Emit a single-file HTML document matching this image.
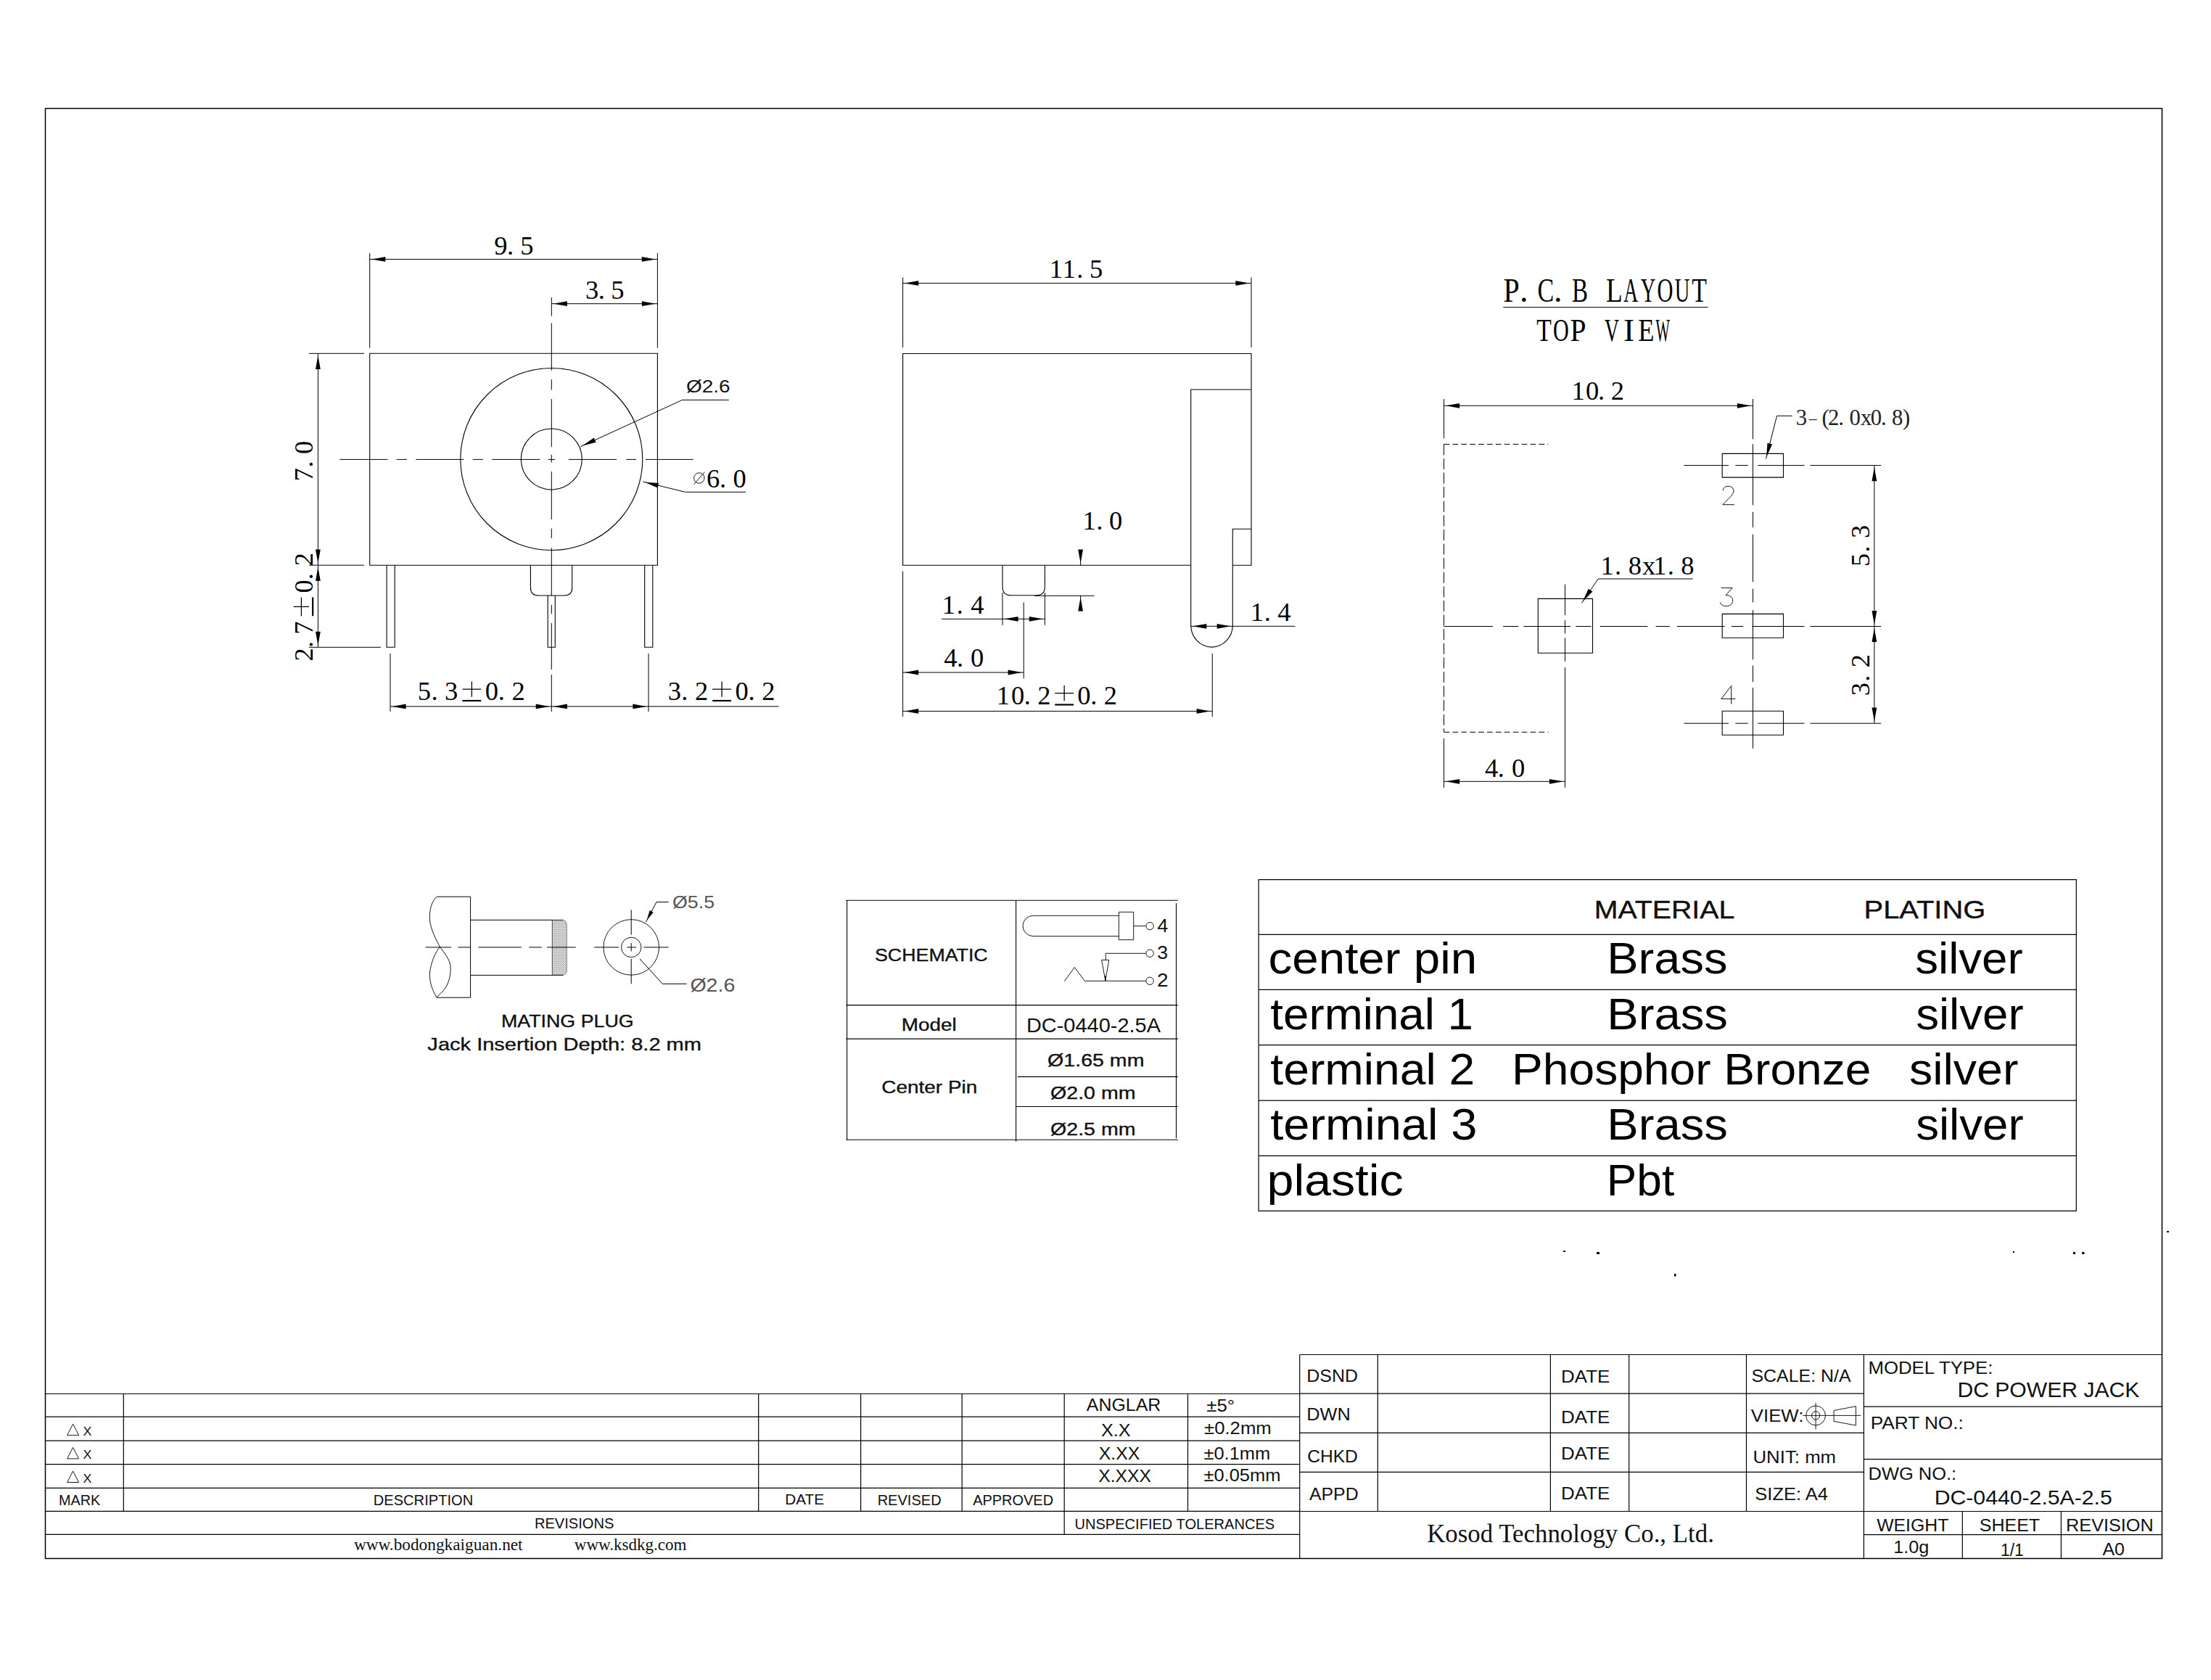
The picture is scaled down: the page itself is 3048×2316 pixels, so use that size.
<!DOCTYPE html>
<html><head><meta charset="utf-8"><title>DC-0440-2.5A-2.5</title>
<style>
html,body{margin:0;padding:0;background:#fff;}
body{width:3048px;height:2316px;overflow:hidden;font-family:"Liberation Sans",sans-serif;}
svg{display:block;}

svg text{white-space:pre;}
</style></head><body>
<svg width="3048" height="2316" viewBox="0 0 3048 2316" shape-rendering="geometricPrecision">
<rect x="0" y="0" width="3048" height="2316" fill="#fff"/>
<path d="M62.5 149.5L2980.5 149.5L2980.5 2148.4L62.5 2148.4Z" stroke="#000" stroke-width="1.5" fill="none"/>
<path d="M509.7 487.3L906.4 487.3L906.4 779.2L509.7 779.2Z" stroke="#000" stroke-width="1.1" fill="none"/>
<circle cx="760.3" cy="633" r="125.5" stroke="#000" stroke-width="1.1" fill="none"/>
<circle cx="760.3" cy="633" r="42" stroke="#000" stroke-width="1.1" fill="none"/>
<path d="M533.1 779.2L533.1 892.3L544.2 892.3L544.2 779.2" stroke="#000" stroke-width="1.1" fill="none"/>
<path d="M888.7 779.2L888.7 892.3L899.8 892.3L899.8 779.2" stroke="#000" stroke-width="1.1" fill="none"/>
<path d="M731.4 779.2L731.4 810Q731.4 821 742.4 821L777.7 821Q788.7 821 788.7 810L788.7 779.2" stroke="#000" stroke-width="1.1" fill="none" />
<path d="M755.2 821L755.2 892.3L765.3 892.3L765.3 821" stroke="#000" stroke-width="1.1" fill="none"/>
<path d="M760.3 410L760.3 981" stroke="#000" stroke-width="1.0" stroke-dasharray="25.7 9.7 65.3 12.5 14.3 12.5 66 10.8 10.7 12.5 66 12.6 13.4 13.4 66 12.5 12.5 12.5 64.1 7 60"/>
<path d="M468.3 633.4L955.6 633.4" stroke="#000" stroke-width="1.0" stroke-dasharray="66 12.5 14 12.5 66 12.5 14 12.5 66 11.4 9.5 18.8 66 13.4 13.7 12.9 66"/>
<path d="M509.7 349L509.7 479.5" stroke="#000" stroke-width="1.0"/>
<path d="M906.4 349L906.4 479.5" stroke="#000" stroke-width="1.0"/>
<path d="M509.7 357.4L906.4 357.4" stroke="#000" stroke-width="1.0"/>
<path d="M512.3 357.4L531.3 354L531.3 360.8Z" fill="#000"/>
<path d="M903.8 357.4L884.8 360.8L884.8 354Z" fill="#000"/>
<g><text y="351.3" font-family="Liberation Serif" font-size="36.54" fill="#000"><tspan x="681.21">9</tspan><tspan x="699.03">.</tspan><tspan x="717.19">5</tspan></text></g>
<path d="M760.3 418.7L906.4 418.7" stroke="#000" stroke-width="1.0"/>
<path d="M762.9 418.7L781.9 415.3L781.9 422.1Z" fill="#000"/>
<path d="M903.8 418.7L884.8 422.1L884.8 415.3Z" fill="#000"/>
<g><text y="412" font-family="Liberation Serif" font-size="36.54" fill="#000"><tspan x="806.96">3</tspan><tspan x="824.66">.</tspan><tspan x="842.19">5</tspan></text></g>
<path d="M426 487.3L502 487.3" stroke="#000" stroke-width="1.0"/>
<path d="M426 779.2L502 779.2" stroke="#000" stroke-width="1.0"/>
<path d="M438.4 487.3L438.4 779.2" stroke="#000" stroke-width="1.0"/>
<path d="M438.4 489.9L441.8 508.9L435 508.9Z" fill="#000"/>
<path d="M438.4 776.6L435 757.6L441.8 757.6Z" fill="#000"/>
<g transform="translate(430.5 635) rotate(-90)"><text y="0" font-family="Liberation Serif" font-size="36.54" fill="#000"><tspan x="-28.38">7</tspan><tspan x="-9.59">.</tspan><tspan x="9.1">0</tspan></text></g>
<path d="M438.4 779.2L438.4 892.3" stroke="#000" stroke-width="1.0"/>
<path d="M438.4 781.8L441.8 800.8L435 800.8Z" fill="#000"/>
<path d="M438.4 889.7L435 870.7L441.8 870.7Z" fill="#000"/>
<path d="M426 892.3L525 892.3" stroke="#000" stroke-width="1.0"/>
<g transform="translate(430.5 837) rotate(-90)"><text y="0" font-family="Liberation Serif" font-size="36.54" fill="#000"><tspan x="-74.55">2</tspan><tspan x="-56.06">.</tspan><tspan x="-37.86">7</tspan><tspan x="19.41">0</tspan><tspan x="37.72">.</tspan><tspan x="56.74">2</tspan></text><path d="M0.71 -25.69L0.71 -4.46M-12.18 -15.08L13.61 -15.08" stroke="#000" stroke-width="1.29" fill="none"/><path d="M-12.18 0.69L13.61 0.69" stroke="#000" stroke-width="2.18" fill="none"/></g>
<path d="M538 901L538 981" stroke="#000" stroke-width="1.0"/>
<path d="M894 901L894 981" stroke="#000" stroke-width="1.0"/>
<path d="M538 973.9L760.3 973.9" stroke="#000" stroke-width="1.0"/>
<path d="M540.6 973.9L559.6 970.5L559.6 977.3Z" fill="#000"/>
<path d="M757.7 973.9L738.7 977.3L738.7 970.5Z" fill="#000"/>
<path d="M760.3 973.9L894 973.9" stroke="#000" stroke-width="1.0"/>
<path d="M762.9 973.9L781.9 970.5L781.9 977.3Z" fill="#000"/>
<path d="M891.4 973.9L872.4 977.3L872.4 970.5Z" fill="#000"/>
<path d="M894 973.9L1073.7 973.9" stroke="#000" stroke-width="1.0"/>
<g><text y="965.3" font-family="Liberation Serif" font-size="36.54" fill="#000"><tspan x="575.8">5</tspan><tspan x="594.52">.</tspan><tspan x="613.05">3</tspan><tspan x="668.74">0</tspan><tspan x="686.73">.</tspan><tspan x="705.44">2</tspan></text><path d="M650.38 939.61L650.38 960.84M637.48 950.22L663.27 950.22" stroke="#000" stroke-width="1.29" fill="none"/><path d="M637.48 965.99L663.27 965.99" stroke="#000" stroke-width="2.18" fill="none"/></g>
<g><text y="965.3" font-family="Liberation Serif" font-size="36.54" fill="#000"><tspan x="920.76">3</tspan><tspan x="939.15">.</tspan><tspan x="957.89">2</tspan><tspan x="1013.48">0</tspan><tspan x="1031.5">.</tspan><tspan x="1050.24">2</tspan></text><path d="M995.09 939.61L995.09 960.84M982.19 950.22L1007.98 950.22" stroke="#000" stroke-width="1.29" fill="none"/><path d="M982.19 965.99L1007.98 965.99" stroke="#000" stroke-width="2.18" fill="none"/></g>
<path d="M940.5 551.4L1004.8 551.4" stroke="#000" stroke-width="1.0"/>
<path d="M940.5 551.4L800.5 615.7" stroke="#000" stroke-width="1.0"/>
<path d="M802.86 614.61L818.71 603.6L821.55 609.77Z" fill="#000"/>
<text transform="translate(946.02 540.5) scale(1.1405 1)" font-family="Liberation Sans" font-size="24.5" fill="#111">Ø2.6</text>
<path d="M944.6 678.3L1028 678.3" stroke="#000" stroke-width="1.0"/>
<path d="M944.6 678.3L886.4 664.1" stroke="#000" stroke-width="1.0"/>
<path d="M888.93 664.72L908.19 665.92L906.58 672.52Z" fill="#000"/>
<g><text y="672" font-family="Liberation Serif" font-size="36.54" fill="#000"><tspan x="974.05">6</tspan><tspan x="991.9">.</tspan><tspan x="1010.5">0</tspan></text></g>
<circle cx="963.8" cy="659" r="7.2" stroke="#000" stroke-width="0.9" fill="none"/>
<path d="M956.6 667.8L971.4 650.6" stroke="#000" stroke-width="0.9"/>
<path d="M1641.7 779.2L1244.6 779.2L1244.6 487.5L1725 487.5L1725 779.2L1699.3 779.2" stroke="#000" stroke-width="1.1" fill="none"/>
<path d="M1725 537L1641.7 537L1641.7 861.7A28.8 30.4 0 0 0 1699.3 861.7L1699.3 729.2L1725 729.2" stroke="#000" stroke-width="1.1" fill="none" />
<path d="M1382 779.2L1382 809Q1382 820.8 1394 820.8L1428.4 820.8Q1440.4 820.8 1440.4 809L1440.4 779.2" stroke="#000" stroke-width="1.1" fill="none" />
<path d="M1244.6 382.5L1244.6 479" stroke="#000" stroke-width="1.0"/>
<path d="M1725 382.5L1725 479" stroke="#000" stroke-width="1.0"/>
<path d="M1244.6 390.4L1725 390.4" stroke="#000" stroke-width="1.0"/>
<path d="M1247.2 390.4L1266.2 387L1266.2 393.8Z" fill="#000"/>
<path d="M1722.4 390.4L1703.4 393.8L1703.4 387Z" fill="#000"/>
<g><text y="382.5" font-family="Liberation Serif" font-size="36.54" fill="#000"><tspan x="1446.8">1</tspan><tspan x="1464.82">1</tspan><tspan x="1484.19">.</tspan><tspan x="1501.94">5</tspan></text></g>
<g><text y="730.4" font-family="Liberation Serif" font-size="36.54" fill="#000"><tspan x="1492.6">1</tspan><tspan x="1511.18">.</tspan><tspan x="1528.9">0</tspan></text></g>
<path d="M1489.6 760.8L1489.6 779.2" stroke="#000" stroke-width="1.0"/>
<path d="M1489.6 776.6L1486.2 757.6L1493 757.6Z" fill="#000"/>
<path d="M1489.6 820.8L1489.6 841.7" stroke="#000" stroke-width="1.0"/>
<path d="M1489.6 823.4L1493 842.4L1486.2 842.4Z" fill="#000"/>
<path d="M1426 821.3L1508.5 821.3" stroke="#000" stroke-width="1.0"/>
<path d="M1382 817L1382 861.8" stroke="#000" stroke-width="1.0"/>
<path d="M1440.4 817L1440.4 861.8" stroke="#000" stroke-width="1.0"/>
<path d="M1298 853.3L1440.4 853.3" stroke="#000" stroke-width="1.0"/>
<path d="M1384.6 853.3L1403.6 849.9L1403.6 856.7Z" fill="#000"/>
<path d="M1437.8 853.3L1418.8 856.7L1418.8 849.9Z" fill="#000"/>
<g><text y="845.8" font-family="Liberation Serif" font-size="36.54" fill="#000"><tspan x="1298.8">1</tspan><tspan x="1318.68">.</tspan><tspan x="1338.28">4</tspan></text></g>
<path d="M1411.25 830.4L1411.25 935.4" stroke="#000" stroke-width="1.0"/>
<path d="M1244.6 927L1411.25 927" stroke="#000" stroke-width="1.0"/>
<path d="M1247.2 927L1266.2 923.6L1266.2 930.4Z" fill="#000"/>
<path d="M1408.65 927L1389.65 930.4L1389.65 923.6Z" fill="#000"/>
<g><text y="919" font-family="Liberation Serif" font-size="36.54" fill="#000"><tspan x="1301.27">4</tspan><tspan x="1318.92">.</tspan><tspan x="1338.1">0</tspan></text></g>
<path d="M1244.6 787.5L1244.6 988" stroke="#000" stroke-width="1.0"/>
<path d="M1671.25 901L1671.25 988" stroke="#000" stroke-width="1.0"/>
<path d="M1244.6 980.4L1671.25 980.4" stroke="#000" stroke-width="1.0"/>
<path d="M1247.2 980.4L1266.2 977L1266.2 983.8Z" fill="#000"/>
<path d="M1668.65 980.4L1649.65 983.8L1649.65 977Z" fill="#000"/>
<g><text y="970.8" font-family="Liberation Serif" font-size="36.54" fill="#000"><tspan x="1373.8">1</tspan><tspan x="1393.92">0</tspan><tspan x="1411.75">.</tspan><tspan x="1430.31">2</tspan><tspan x="1485.35">0</tspan><tspan x="1503.18">.</tspan><tspan x="1521.74">2</tspan></text><path d="M1467.15 945.11L1467.15 966.34M1454.26 955.72L1480.05 955.72" stroke="#000" stroke-width="1.29" fill="none"/><path d="M1454.26 971.49L1480.05 971.49" stroke="#000" stroke-width="2.18" fill="none"/></g>
<path d="M1641.7 863.3L1785.4 863.3" stroke="#000" stroke-width="1.0"/>
<path d="M1644.3 863.3L1663.3 859.9L1663.3 866.7Z" fill="#000"/>
<path d="M1696.7 863.3L1677.7 866.7L1677.7 859.9Z" fill="#000"/>
<g><text y="856" font-family="Liberation Serif" font-size="36.54" fill="#000"><tspan x="1723.8">1</tspan><tspan x="1742.65">.</tspan><tspan x="1761.28">4</tspan></text></g>
<g><text y="416" font-family="Liberation Serif" font-size="46.3" fill="#000"><tspan x="2094.95">.</tspan><tspan x="2142.05">.</tspan></text><text transform="translate(2072.6 416) scale(0.862 1)" font-family="Liberation Serif" font-size="46.3" fill="#000">P</text><text transform="translate(2119.43 416) scale(0.737 1)" font-family="Liberation Serif" font-size="46.3" fill="#000">C</text><text transform="translate(2166.99 416) scale(0.716 1)" font-family="Liberation Serif" font-size="46.3" fill="#000">B</text><text transform="translate(2213.97 416) scale(0.808 1)" font-family="Liberation Serif" font-size="46.3" fill="#000">L</text><text transform="translate(2238.27 416) scale(0.599 1)" font-family="Liberation Serif" font-size="46.3" fill="#000">A</text><text transform="translate(2261.82 416) scale(0.614 1)" font-family="Liberation Serif" font-size="46.3" fill="#000">Y</text><text transform="translate(2284.44 416) scale(0.657 1)" font-family="Liberation Serif" font-size="46.3" fill="#000">O</text><text transform="translate(2308.63 416) scale(0.619 1)" font-family="Liberation Serif" font-size="46.3" fill="#000">U</text><text transform="translate(2332.16 416) scale(0.731 1)" font-family="Liberation Serif" font-size="46.3" fill="#000">T</text></g>
<path d="M2072.3 423.6L2354.6 423.6" stroke="#000" stroke-width="1.0"/>
<g><text y="469.7" font-family="Liberation Serif" font-size="45.27" fill="#000"><tspan x="2237.97">I</tspan></text><text transform="translate(2118.21 469.7) scale(0.743 1)" font-family="Liberation Serif" font-size="45.27" fill="#000">T</text><text transform="translate(2140.99 469.7) scale(0.668 1)" font-family="Liberation Serif" font-size="45.27" fill="#000">O</text><text transform="translate(2164.5 469.7) scale(0.876 1)" font-family="Liberation Serif" font-size="45.27" fill="#000">P</text><text transform="translate(2212.11 469.7) scale(0.613 1)" font-family="Liberation Serif" font-size="45.27" fill="#000">V</text><text transform="translate(2258.18 469.7) scale(0.806 1)" font-family="Liberation Serif" font-size="45.27" fill="#000">E</text><text transform="translate(2282.58 469.7) scale(0.455 1)" font-family="Liberation Serif" font-size="45.27" fill="#000">W</text></g>
<path d="M1990.5 550.1L1990.5 604.3" stroke="#000" stroke-width="1.0"/>
<path d="M1990.5 559.3L2416.5 559.3" stroke="#000" stroke-width="1.0"/>
<path d="M1993.1 559.3L2012.1 555.9L2012.1 562.7Z" fill="#000"/>
<path d="M2413.9 559.3L2394.9 562.7L2394.9 555.9Z" fill="#000"/>
<g><text y="551.2" font-family="Liberation Serif" font-size="36.54" fill="#000"><tspan x="2166.6">1</tspan><tspan x="2185.96">0</tspan><tspan x="2203.01">.</tspan><tspan x="2220.84">2</tspan></text></g>
<path d="M1990.5 612.4L2134.3 612.4" stroke="#000" stroke-width="1.0" stroke-dasharray="7.8 4.1"/>
<path d="M1990.5 1009.3L2134.3 1009.3" stroke="#000" stroke-width="1.0" stroke-dasharray="7.8 4.1"/>
<path d="M1990.5 612.4L1990.5 1009.3" stroke="#000" stroke-width="1.0" stroke-dasharray="15 4.6"/>
<path d="M2374.2 625.4L2458.5 625.4L2458.5 658.1L2374.2 658.1Z" stroke="#000" stroke-width="1.1" fill="none"/>
<path d="M2374.2 846.4L2458.5 846.4L2458.5 879.3L2374.2 879.3Z" stroke="#000" stroke-width="1.1" fill="none"/>
<path d="M2374.2 980.3L2458.5 980.3L2458.5 1013.2L2374.2 1013.2Z" stroke="#000" stroke-width="1.1" fill="none"/>
<path d="M2416.5 550.1L2416.5 1031.8" stroke="#000" stroke-width="1.0" stroke-dasharray="55.2 7 84.1 9.4 21.4 9.4 65.6 9.4 18.7 10.7 68.3 8.1 22.6 8 90"/>
<path d="M2321.4 641.6L2383 641.6" stroke="#000" stroke-width="1.0"/>
<path d="M2392.4 641.6L2409.8 641.6" stroke="#000" stroke-width="1.0"/>
<path d="M2423.2 641.6L2487.5 641.6" stroke="#000" stroke-width="1.0"/>
<path d="M2495.5 641.6L2593.2 641.6" stroke="#000" stroke-width="1.0"/>
<path d="M1990.5 863.5L2057.9 863.5" stroke="#000" stroke-width="1.0"/>
<path d="M2072.1 863.5L2093.3 863.5" stroke="#000" stroke-width="1.0"/>
<path d="M2100.4 863.5L2165.2 863.5" stroke="#000" stroke-width="1.0"/>
<path d="M2172.3 863.5L2193.5 863.5" stroke="#000" stroke-width="1.0"/>
<path d="M2205.7 863.5L2271.4 863.5" stroke="#000" stroke-width="1.0"/>
<path d="M2282.6 863.5L2301.8 863.5" stroke="#000" stroke-width="1.0"/>
<path d="M2311.9 863.5L2377.7 863.5" stroke="#000" stroke-width="1.0"/>
<path d="M2387 863.5L2403.1 863.5" stroke="#000" stroke-width="1.0"/>
<path d="M2415.2 863.5L2487.5 863.5" stroke="#000" stroke-width="1.0"/>
<path d="M2495.5 863.5L2593.2 863.5" stroke="#000" stroke-width="1.0"/>
<path d="M2321.4 997.2L2383 997.2" stroke="#000" stroke-width="1.0"/>
<path d="M2392.4 997.2L2409.8 997.2" stroke="#000" stroke-width="1.0"/>
<path d="M2423.2 997.2L2487.5 997.2" stroke="#000" stroke-width="1.0"/>
<path d="M2495.5 997.2L2593.2 997.2" stroke="#000" stroke-width="1.0"/>
<path d="M2120.3 825.4L2195.5 825.4L2195.5 900.3L2120.3 900.3Z" stroke="#000" stroke-width="1.1" fill="none"/>
<path d="M2157.5 805.5L2157.5 848" stroke="#000" stroke-width="1.0"/>
<path d="M2157.5 855.1L2157.5 873.3" stroke="#000" stroke-width="1.0"/>
<path d="M2157.5 879.4L2157.5 911.8" stroke="#000" stroke-width="1.0"/>
<path d="M2157.5 919.9L2157.5 1085.8" stroke="#000" stroke-width="1.0"/>
<path d="M2203.2 798L2333.8 798" stroke="#000" stroke-width="1.0"/>
<path d="M2203.2 798L2180.4 831.4" stroke="#000" stroke-width="1.0"/>
<path d="M2181.87 829.25L2189.77 811.64L2195.39 815.48Z" fill="#000"/>
<g><text y="792" font-family="Liberation Serif" font-size="36.54" fill="#000"><tspan x="2206.5">1</tspan><tspan x="2226.03">.</tspan><tspan x="2244.65">8</tspan><tspan x="2263.91">x</tspan><tspan x="2279.15">1</tspan><tspan x="2298.68">.</tspan><tspan x="2317.3">8</tspan></text></g>
<path d="M2470.6 573.3L2449.5 573.3" stroke="#000" stroke-width="1.0"/>
<path d="M2449.5 573.3L2434.5 632.6" stroke="#000" stroke-width="1.0"/>
<path d="M2435.14 630.08L2436.5 610.83L2443.09 612.49Z" fill="#000"/>
<g><text y="586.3" font-family="Liberation Serif" font-size="30.77" fill="#222"><tspan x="2475.84">3</tspan><tspan x="2511.54">(</tspan><tspan x="2519.97">2</tspan><tspan x="2534.37">.</tspan><tspan x="2549.43">0</tspan><tspan x="2565.02">x</tspan><tspan x="2578.75">0</tspan><tspan x="2593">.</tspan><tspan x="2608.07">8</tspan><tspan x="2622.88">)</tspan></text><path d="M2493.72 578.6L2504.86 578.6" stroke="#222" stroke-width="1.17" fill="none"/></g>
<path transform="translate(2374.4 670.4) scale(0.965 0.973)" d="M1 6C1 2 4 0 8.5 0C13 0 16 2.5 16 6.5C16 10 13 13.5 9 17.5L0.5 26L17 26" stroke="#111" stroke-width="1.0" fill="none" vector-effect="non-scaling-stroke"/>
<path transform="translate(2371.2 810.4) scale(1.059 0.969)" d="M1.5 0L16 0L7.5 10.5C13 10.5 16.5 13.5 16.5 18C16.5 23 13 26 8 26C4 26 1 24 0 20.5" stroke="#111" stroke-width="1.0" fill="none" vector-effect="non-scaling-stroke"/>
<path transform="translate(2372.9 945.5) scale(1.106 0.969)" d="M12.5 0L0 18.5L17.5 18.5M12.5 0L12.5 26" stroke="#111" stroke-width="1.0" fill="none" vector-effect="non-scaling-stroke"/>
<path d="M2583.9 641.6L2583.9 863.5" stroke="#000" stroke-width="1.0"/>
<path d="M2583.9 644.2L2587.3 663.2L2580.5 663.2Z" fill="#000"/>
<path d="M2583.9 860.9L2580.5 841.9L2587.3 841.9Z" fill="#000"/>
<path d="M2583.9 863.5L2583.9 997.2" stroke="#000" stroke-width="1.0"/>
<path d="M2583.9 866.1L2587.3 885.1L2580.5 885.1Z" fill="#000"/>
<path d="M2583.9 994.6L2580.5 975.6L2587.3 975.6Z" fill="#000"/>
<g transform="translate(2577.2 752.1) rotate(-90)"><text y="0" font-family="Liberation Serif" font-size="36.54" fill="#000"><tspan x="-28.9">5</tspan><tspan x="-9.33">.</tspan><tspan x="9.99">3</tspan></text></g>
<g transform="translate(2577.2 930.7) rotate(-90)"><text y="0" font-family="Liberation Serif" font-size="36.54" fill="#000"><tspan x="-28.54">3</tspan><tspan x="-9.14">.</tspan><tspan x="10.54">2</tspan></text></g>
<path d="M1990.5 1017.9L1990.5 1085.8" stroke="#000" stroke-width="1.0"/>
<path d="M1990.5 1077.3L2157.5 1077.3" stroke="#000" stroke-width="1.0"/>
<path d="M1993.1 1077.3L2012.1 1073.9L2012.1 1080.7Z" fill="#000"/>
<path d="M2154.9 1077.3L2135.9 1080.7L2135.9 1073.9Z" fill="#000"/>
<g><text y="1070.7" font-family="Liberation Serif" font-size="36.54" fill="#000"><tspan x="2047.07">4</tspan><tspan x="2064.83">.</tspan><tspan x="2084.1">0</tspan></text></g>
<defs><pattern id="kn" width="2.6" height="2.6" patternUnits="userSpaceOnUse"><rect width="2.6" height="2.6" fill="#fff"/><circle cx="0.7" cy="0.7" r="0.55" fill="#222"/><circle cx="2.0" cy="2.0" r="0.55" fill="#222"/></pattern></defs>
<path d="M602.2 1236.2L648.6 1236.2L648.6 1375.2L602.2 1375.2" stroke="#000" stroke-width="1.0" fill="none"/>
<path d="M602.2 1236.2C594 1243 591.5 1258 592.5 1268C593.5 1281 601 1295 606.4 1305.3" stroke="#000" stroke-width="0.9" fill="none" />
<path d="M606.4 1305.3C612 1313 620 1322 621 1332C622 1347 617 1360 610 1367C607 1370 604 1372 602.2 1375.2" stroke="#000" stroke-width="0.9" fill="none" />
<path d="M606.4 1305.3C600 1313 594 1327 592.5 1341C591.5 1352 596 1366 602.2 1375.2" stroke="#000" stroke-width="0.9" fill="none" />
<path d="M648.6 1268.3L776.5 1268.3M776.5 1344.4L648.6 1344.4" stroke="#000" stroke-width="1.0" fill="none" />
<path d="M761.4 1268.3L761.4 1344.4" stroke="#000" stroke-width="0.9"/>
<path d="M761.4 1268.8L776.5 1268.8Q781.3 1269.5 781.3 1275L781.3 1338Q781.3 1343.2 776.5 1343.9L761.4 1343.9Z" fill="url(#kn)" stroke="#444" stroke-width="0.6"/>
<path d="M586.6 1305.9L622 1305.9" stroke="#000" stroke-width="1.0"/>
<path d="M631.4 1305.9L649 1305.9" stroke="#000" stroke-width="1.0"/>
<path d="M659.5 1305.9L718.8 1305.9" stroke="#000" stroke-width="1.0"/>
<path d="M729.2 1305.9L746.8 1305.9" stroke="#000" stroke-width="1.0"/>
<path d="M754.1 1305.9L793.7 1305.9" stroke="#000" stroke-width="1.0"/>
<circle cx="870.2" cy="1305.9" r="38.3" stroke="#000" stroke-width="0.9" fill="none"/>
<circle cx="870.2" cy="1305.9" r="13.7" stroke="#000" stroke-width="0.9" fill="none"/>
<path d="M819.2 1305.9L853 1305.9" stroke="#000" stroke-width="1.0"/>
<path d="M864.4 1305.9L876.9 1305.9" stroke="#000" stroke-width="1.0"/>
<path d="M887.3 1305.9L921.6 1305.9" stroke="#000" stroke-width="1.0"/>
<path d="M870.2 1254.3L870.2 1288.7" stroke="#000" stroke-width="1.0"/>
<path d="M870.2 1300.1L870.2 1311.5" stroke="#000" stroke-width="1.0"/>
<path d="M870.2 1321.9L870.2 1356.3" stroke="#000" stroke-width="1.0"/>
<path d="M921.6 1243.5L905 1243.5" stroke="#000" stroke-width="1.0"/>
<path d="M905 1243.5L890.4 1271" stroke="#000" stroke-width="1.0"/>
<path d="M891.62 1268.7L895.71 1255.03L900.66 1257.65Z" fill="#000"/>
<text transform="translate(926.96 1252.2) scale(1.1033 1)" font-family="Liberation Sans" font-size="24.3" fill="#555">Ø5.5</text>
<path d="M882.1 1322L913.3 1356.3" stroke="#000" stroke-width="1.0"/>
<path d="M913.3 1356.3L946.6 1356.3" stroke="#000" stroke-width="1.0"/>
<text transform="translate(951.4 1366.7) scale(1.0739 1)" font-family="Liberation Sans" font-size="26.6" fill="#555">Ø2.6</text>
<text transform="translate(690.99 1415.6) scale(1.1657 1)" font-family="Liberation Sans" font-size="23" fill="#111" stroke="#111" stroke-width="0.35">MATING PLUG</text>
<text transform="translate(589.36 1447.9) scale(1.2363 1)" font-family="Liberation Sans" font-size="23.5" fill="#111" stroke="#111" stroke-width="0.35">Jack Insertion Depth: 8.2 mm</text>
<path d="M1166.3 1241.3L1623.8 1241.3" stroke="#000" stroke-width="1.1"/>
<path d="M1166.3 1385.6L1623.8 1385.6" stroke="#000" stroke-width="1.1"/>
<path d="M1166.3 1432.1L1623.8 1432.1" stroke="#000" stroke-width="1.1"/>
<path d="M1166.3 1571.2L1623.8 1571.2" stroke="#000" stroke-width="1.1"/>
<path d="M1402.8 1484.4L1623.8 1484.4" stroke="#000" stroke-width="1.1"/>
<path d="M1399.9 1525.5L1623.8 1525.5" stroke="#000" stroke-width="1.1"/>
<path d="M1167.6 1241.3L1167.6 1571.4" stroke="#000" stroke-width="1.1"/>
<path d="M1400.6 1241.3L1400.6 1573.7" stroke="#000" stroke-width="1.1"/>
<path d="M1621.5 1244.9L1621.5 1569.2" stroke="#000" stroke-width="1.1"/>
<text transform="translate(1205.99 1324.5) scale(1.1072 1)" font-family="Liberation Sans" font-size="24.2" fill="#111" stroke="#111" stroke-width="0.35">SCHEMATIC</text>
<text transform="translate(1242.7 1420.6) scale(1.1538 1)" font-family="Liberation Sans" font-size="24.2" fill="#111" stroke="#111" stroke-width="0.35">Model</text>
<text transform="translate(1414.91 1423.3) scale(1.0345 1)" font-family="Liberation Sans" font-size="28" fill="#111">DC-0440-2.5A</text>
<text transform="translate(1215.3 1506.5) scale(1.1554 1)" font-family="Liberation Sans" font-size="24.2" fill="#111" stroke="#111" stroke-width="0.35">Center Pin</text>
<text transform="translate(1444.1 1469.7) scale(1.1905 1)" font-family="Liberation Sans" font-size="24" fill="#111" stroke="#111" stroke-width="0.35">Ø1.65 mm</text>
<text transform="translate(1448 1515.1) scale(1.1921 1)" font-family="Liberation Sans" font-size="24" fill="#111" stroke="#111" stroke-width="0.35">Ø2.0 mm</text>
<text transform="translate(1448 1564.7) scale(1.1921 1)" font-family="Liberation Sans" font-size="24" fill="#111" stroke="#111" stroke-width="0.35">Ø2.5 mm</text>
<path d="M1542.4 1262.3L1424.2 1262.3A14.15 14.15 0 0 0 1424.2 1290.6L1542.4 1290.6" stroke="#000" stroke-width="0.9" fill="none" />
<path d="M1542.4 1257.3L1562.7 1257.3L1562.7 1295.6L1542.4 1295.6Z" stroke="#000" stroke-width="0.9" fill="none"/>
<path d="M1562.7 1276.6L1579.7 1276.6" stroke="#000" stroke-width="0.9"/>
<circle cx="1585.1" cy="1276.6" r="5.2" stroke="#000" stroke-width="0.9" fill="none"/>
<circle cx="1585.1" cy="1314.3" r="5.2" stroke="#000" stroke-width="0.9" fill="none"/>
<path d="M1579.7 1314.3L1524.3 1314.3L1524.3 1323.4" stroke="#000" stroke-width="0.9" fill="none"/>
<path d="M1518.6 1323.4L1528.8 1323.4L1523.8 1351.6Z" stroke="#000" stroke-width="0.9" fill="none"/>
<circle cx="1585.1" cy="1352.3" r="5.2" stroke="#000" stroke-width="0.9" fill="none"/>
<path d="M1579.7 1352.3L1495.3 1352.3L1481.3 1333.5L1467.3 1352.8" stroke="#000" stroke-width="0.9" fill="none"/>
<path d="M1523.8 1345L1523.8 1352.3" stroke="#000" stroke-width="1.4"/>
<text transform="translate(1595.4 1284.9) scale(1.0483 1)" font-family="Liberation Sans" font-size="25.5" fill="#111">4</text>
<text transform="translate(1595.3 1322.2) scale(1.0485 1)" font-family="Liberation Sans" font-size="25.5" fill="#111">3</text>
<text transform="translate(1594.9 1360.2) scale(1.0946 1)" font-family="Liberation Sans" font-size="25.5" fill="#111">2</text>
<path d="M1735.1 1212.6L2862.3 1212.6L2862.3 1669.4L1735.1 1669.4Z" stroke="#000" stroke-width="1.2" fill="none"/>
<path d="M1735.1 1288.3L2862.3 1288.3" stroke="#000" stroke-width="1.2"/>
<path d="M1735.1 1364.3L2862.3 1364.3" stroke="#000" stroke-width="1.2"/>
<path d="M1735.1 1440.6L2862.3 1440.6" stroke="#000" stroke-width="1.2"/>
<path d="M1735.1 1517.1L2862.3 1517.1" stroke="#000" stroke-width="1.2"/>
<path d="M1735.1 1593.4L2862.3 1593.4" stroke="#000" stroke-width="1.2"/>
<text transform="translate(2197.66 1266.3) scale(1.0921 1)" font-family="Liberation Sans" font-size="36" fill="#111" stroke="#111" stroke-width="0.4">MATERIAL</text>
<text transform="translate(2569.61 1266.3) scale(1.1077 1)" font-family="Liberation Sans" font-size="36" fill="#111" stroke="#111" stroke-width="0.4">PLATING</text>
<text transform="translate(1748.62 1342) scale(1.0735 1)" font-family="Liberation Sans" font-size="61" fill="#000">center pin</text>
<text transform="translate(2215.24 1342) scale(1.0660 1)" font-family="Liberation Sans" font-size="61" fill="#000">Brass</text>
<text transform="translate(2640.25 1342) scale(1.0430 1)" font-family="Liberation Sans" font-size="61" fill="#000">silver</text>
<text transform="translate(1751.34 1418.6) scale(1.0444 1)" font-family="Liberation Sans" font-size="61" fill="#000">terminal 1</text>
<text transform="translate(2215.22 1418.6) scale(1.0694 1)" font-family="Liberation Sans" font-size="61" fill="#000">Brass</text>
<text transform="translate(2641.15 1418.6) scale(1.0430 1)" font-family="Liberation Sans" font-size="61" fill="#000">silver</text>
<text transform="translate(1751.34 1495.1) scale(1.0526 1)" font-family="Liberation Sans" font-size="61" fill="#000">terminal 2</text>
<text transform="translate(2084.11 1495.1) scale(1.0509 1)" font-family="Liberation Sans" font-size="61" fill="#000">Phosphor Bronze</text>
<text transform="translate(2631.93 1495.1) scale(1.0573 1)" font-family="Liberation Sans" font-size="61" fill="#000">silver</text>
<text transform="translate(1751.33 1571.4) scale(1.0648 1)" font-family="Liberation Sans" font-size="61" fill="#000">terminal 3</text>
<text transform="translate(2215.22 1571.4) scale(1.0694 1)" font-family="Liberation Sans" font-size="61" fill="#000">Brass</text>
<text transform="translate(2641.15 1571.4) scale(1.0430 1)" font-family="Liberation Sans" font-size="61" fill="#000">silver</text>
<text transform="translate(1746.59 1647.7) scale(1.0879 1)" font-family="Liberation Sans" font-size="61" fill="#000">plastic</text>
<text transform="translate(2214.87 1647.7) scale(1.0196 1)" font-family="Liberation Sans" font-size="61" fill="#000">Pbt</text>
<path d="M62.5 1921.5L1791.7 1921.5" stroke="#000" stroke-width="1.2"/>
<path d="M62.5 1953.2L1791.7 1953.2" stroke="#000" stroke-width="1.2"/>
<path d="M62.5 1986.1L1791.7 1986.1" stroke="#000" stroke-width="1.2"/>
<path d="M62.5 2018.6L1791.7 2018.6" stroke="#000" stroke-width="1.2"/>
<path d="M62.5 2051.3L1791.7 2051.3" stroke="#000" stroke-width="1.2"/>
<path d="M62.5 2083.3L1791.7 2083.3" stroke="#000" stroke-width="1.2"/>
<path d="M62.5 2115.4L1791.7 2115.4" stroke="#000" stroke-width="1.2"/>
<path d="M170.3 1921.5L170.3 2083.3" stroke="#000" stroke-width="1.2"/>
<path d="M1045.7 1921.5L1045.7 2083.3" stroke="#000" stroke-width="1.2"/>
<path d="M1186.6 1921.5L1186.6 2083.3" stroke="#000" stroke-width="1.2"/>
<path d="M1326.2 1921.5L1326.2 2083.3" stroke="#000" stroke-width="1.2"/>
<path d="M1637.5 1921.5L1637.5 2083.3" stroke="#000" stroke-width="1.2"/>
<path d="M1467.2 1921.5L1467.2 2115.4" stroke="#000" stroke-width="1.2"/>
<path d="M1791.7 1867.5L2980.5 1867.5" stroke="#000" stroke-width="1.2"/>
<path d="M1791.7 1867.5L1791.7 2148.4" stroke="#000" stroke-width="1.2"/>
<path d="M1791.7 1921.2L2569.4 1921.2" stroke="#000" stroke-width="1.2"/>
<path d="M1791.7 1975.4L2569.4 1975.4" stroke="#000" stroke-width="1.2"/>
<path d="M1791.7 2029.3L2569.4 2029.3" stroke="#000" stroke-width="1.2"/>
<path d="M1791.7 2083.5L2980.5 2083.5" stroke="#000" stroke-width="1.2"/>
<path d="M1899.3 1867.5L1899.3 2083.5" stroke="#000" stroke-width="1.2"/>
<path d="M2137.4 1867.5L2137.4 2083.5" stroke="#000" stroke-width="1.2"/>
<path d="M2245.7 1867.5L2245.7 2083.5" stroke="#000" stroke-width="1.2"/>
<path d="M2407.5 1867.5L2407.5 2083.5" stroke="#000" stroke-width="1.2"/>
<path d="M2569.4 1867.5L2569.4 2148.4" stroke="#000" stroke-width="1.2"/>
<path d="M2569.4 1939.1L2980.5 1939.1" stroke="#000" stroke-width="1.2"/>
<path d="M2569.4 2011.7L2980.5 2011.7" stroke="#000" stroke-width="1.2"/>
<path d="M2569.4 2115.6L2980.5 2115.6" stroke="#000" stroke-width="1.2"/>
<path d="M2705.3 2083.5L2705.3 2148.4" stroke="#000" stroke-width="1.2"/>
<path d="M2841.4 2083.5L2841.4 2148.4" stroke="#000" stroke-width="1.2"/>
<text transform="translate(80.96 2074.8) scale(1.0270 1)" font-family="Liberation Sans" font-size="19.3" fill="#111">MARK</text>
<text transform="translate(514.74 2074.8) scale(1.0425 1)" font-family="Liberation Sans" font-size="19.3" fill="#111">DESCRIPTION</text>
<text transform="translate(1082.28 2074.3) scale(1.0772 1)" font-family="Liberation Sans" font-size="19.3" fill="#111">DATE</text>
<text transform="translate(1209.64 2074.8) scale(1.0399 1)" font-family="Liberation Sans" font-size="19.3" fill="#111">REVISED</text>
<text transform="translate(1341.15 2074.8) scale(1.0358 1)" font-family="Liberation Sans" font-size="19.3" fill="#111">APPROVED</text>
<text transform="translate(736.94 2106.7) scale(1.0421 1)" font-family="Liberation Sans" font-size="19.3" fill="#111">REVISIONS</text>
<text transform="translate(1481.44 2108) scale(1.0296 1)" font-family="Liberation Sans" font-size="19.5" fill="#111">UNSPECIFIED TOLERANCES</text>
<path d="M100.6 1963.1L92.6 1978.6L108.6 1978.6Z" stroke="#000" stroke-width="0.9" fill="none"/>
<text transform="translate(114.5 1979.1) scale(1.0307 1)" font-family="Liberation Sans" font-size="17.3" fill="#111">X</text>
<path d="M100.6 1995.4L92.6 2010.9L108.6 2010.9Z" stroke="#000" stroke-width="0.9" fill="none"/>
<text transform="translate(114.5 2011.4) scale(1.0307 1)" font-family="Liberation Sans" font-size="17.3" fill="#111">X</text>
<path d="M100.6 2028L92.6 2043.5L108.6 2043.5Z" stroke="#000" stroke-width="0.9" fill="none"/>
<text transform="translate(114.5 2044) scale(1.0307 1)" font-family="Liberation Sans" font-size="17.3" fill="#111">X</text>
<text transform="translate(487.9 2137.4) scale(1.0135 1)" font-family="Liberation Serif" font-size="23" fill="#111">www.bodongkaiguan.net</text>
<text transform="translate(791.8 2137.4) scale(1.0030 1)" font-family="Liberation Serif" font-size="23" fill="#111">www.ksdkg.com</text>
<text transform="translate(1497.84 1945) scale(1.0841 1)" font-family="Liberation Sans" font-size="23" fill="#111">ANGLAR</text>
<text transform="translate(1663.26 1945.9) scale(1.1204 1)" font-family="Liberation Sans" font-size="23" fill="#111">±5°</text>
<text transform="translate(1517.93 1979.8) scale(1.0956 1)" font-family="Liberation Sans" font-size="23" fill="#111">X.X</text>
<text transform="translate(1660.06 1977.3) scale(1.1181 1)" font-family="Liberation Sans" font-size="23" fill="#111">±0.2mm</text>
<text transform="translate(1514.74 2011.5) scale(1.0777 1)" font-family="Liberation Sans" font-size="23" fill="#111">X.XX</text>
<text transform="translate(1659.47 2011.5) scale(1.1069 1)" font-family="Liberation Sans" font-size="23" fill="#111">±0.1mm</text>
<text transform="translate(1514.14 2043.1) scale(1.0755 1)" font-family="Liberation Sans" font-size="23" fill="#111">X.XXX</text>
<text transform="translate(1659.47 2041.5) scale(1.1077 1)" font-family="Liberation Sans" font-size="23" fill="#111">±0.05mm</text>
<text transform="translate(1801.34 1904.5) scale(1.0382 1)" font-family="Liberation Sans" font-size="24" fill="#111">DSND</text>
<text transform="translate(1801.31 1957.6) scale(1.0555 1)" font-family="Liberation Sans" font-size="24" fill="#111">DWN</text>
<text transform="translate(1802.17 2016.2) scale(1.0259 1)" font-family="Liberation Sans" font-size="24" fill="#111">CHKD</text>
<text transform="translate(1804.94 2067.5) scale(1.0368 1)" font-family="Liberation Sans" font-size="24" fill="#111">APPD</text>
<text transform="translate(2152.06 1906) scale(1.0807 1)" font-family="Liberation Sans" font-size="24" fill="#111">DATE</text>
<text transform="translate(2152.06 1961.8) scale(1.0807 1)" font-family="Liberation Sans" font-size="24" fill="#111">DATE</text>
<text transform="translate(2152.06 2012.1) scale(1.0807 1)" font-family="Liberation Sans" font-size="24" fill="#111">DATE</text>
<text transform="translate(2152.06 2066.9) scale(1.0807 1)" font-family="Liberation Sans" font-size="24" fill="#111">DATE</text>
<text transform="translate(2414.48 1904.7) scale(1.0380 1)" font-family="Liberation Sans" font-size="24" fill="#111">SCALE: N/A</text>
<text transform="translate(2413.87 1959.9) scale(1.0723 1)" font-family="Liberation Sans" font-size="24" fill="#111">VIEW:</text>
<text transform="translate(2416.5 2017.2) scale(1.0746 1)" font-family="Liberation Sans" font-size="24" fill="#111">UNIT: mm</text>
<text transform="translate(2419.35 2067.8) scale(1.0641 1)" font-family="Liberation Sans" font-size="24" fill="#111">SIZE: A4</text>
<circle cx="2503.1" cy="1951.4" r="13.4" stroke="#000" stroke-width="0.9" fill="none"/>
<circle cx="2503.1" cy="1951.4" r="5.6" stroke="#000" stroke-width="0.9" fill="none"/>
<path d="M2485.4 1951.4L2565.3 1951.4" stroke="#000" stroke-width="0.9"/>
<path d="M2503.1 1934L2503.1 1970.5" stroke="#000" stroke-width="0.9"/>
<path d="M2528.1 1944.5L2558.4 1938.7L2558.4 1965L2528.1 1959.4Z" stroke="#000" stroke-width="0.9" fill="none"/>
<text transform="translate(2575.47 1893.6) scale(1.0745 1)" font-family="Liberation Sans" font-size="24" fill="#111">MODEL TYPE:</text>
<text transform="translate(2698.41 1925.9) scale(1.0215 1)" font-family="Liberation Sans" font-size="29.5" fill="#111">DC POWER JACK</text>
<text transform="translate(2578.74 1970) scale(1.0917 1)" font-family="Liberation Sans" font-size="24" fill="#111">PART NO.:</text>
<text transform="translate(2575.5 2039.8) scale(1.0613 1)" font-family="Liberation Sans" font-size="24" fill="#111">DWG NO.:</text>
<text transform="translate(2666.71 2073.5) scale(1.0865 1)" font-family="Liberation Sans" font-size="27.8" fill="#111">DC-0440-2.5A-2.5</text>
<text transform="translate(2587.18 2110.7) scale(1.0331 1)" font-family="Liberation Sans" font-size="24" fill="#111">WEIGHT</text>
<text transform="translate(2728.77 2110.7) scale(1.0426 1)" font-family="Liberation Sans" font-size="24" fill="#111">SHEET</text>
<text transform="translate(2848.12 2110.7) scale(1.0509 1)" font-family="Liberation Sans" font-size="24" fill="#111">REVISION</text>
<text transform="translate(2610.21 2141.1) scale(1.0945 1)" font-family="Liberation Sans" font-size="23" fill="#111">1.0g</text>
<text transform="translate(2757.98 2144.7) scale(0.9948 1)" font-family="Liberation Sans" font-size="23" fill="#111">1/1</text>
<text transform="translate(2898.44 2143.8) scale(1.0847 1)" font-family="Liberation Sans" font-size="23" fill="#111">A0</text>
<text transform="translate(1967.14 2126.1) scale(0.9603 1)" font-family="Liberation Serif" font-size="36.3" fill="#111">Kosod Technology Co., Ltd.</text>
<rect x="2155" y="1724" width="3" height="2" fill="#000"/>
<rect x="2201" y="1726" width="4" height="3" fill="#000"/>
<rect x="2308" y="1756" width="2.5" height="3.5" fill="#000"/>
<rect x="2775" y="1725" width="2" height="2" fill="#000"/>
<rect x="2858" y="1726" width="3" height="3" fill="#000"/>
<rect x="2870" y="1726" width="3.5" height="3" fill="#000"/>
<rect x="2987" y="1697" width="3" height="2" fill="#000"/>
</svg>
</body></html>
